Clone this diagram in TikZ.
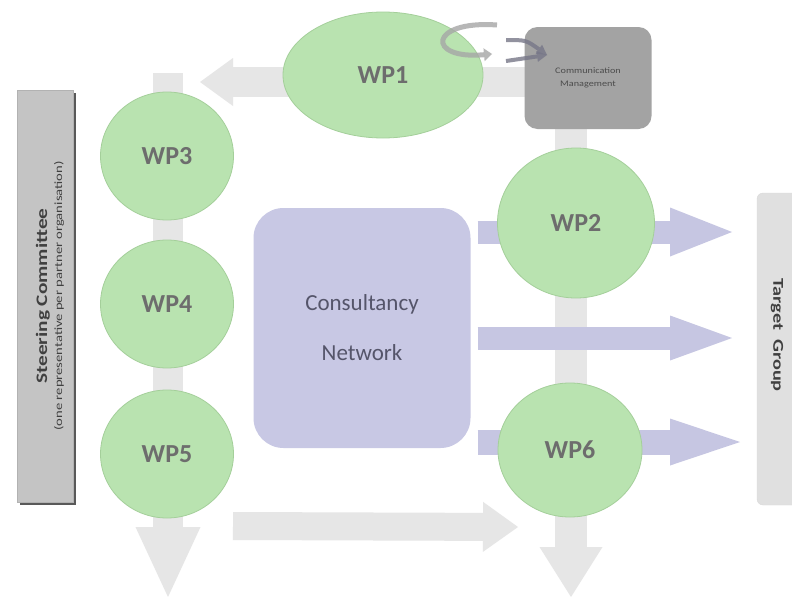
\documentclass[tikz,border=0pt]{standalone}
\usepackage{fontspec}
\setmainfont{Carlito}
\usepackage{graphicx}
\usetikzlibrary{arrows.meta,shapes.geometric,shadows}

\definecolor{wpgreen}{HTML}{B9E3B0}
\definecolor{wpedge}{HTML}{A4CF9A}
\definecolor{wptext}{HTML}{6D6D6D}
\definecolor{flowgray}{HTML}{E6E6E6}
\definecolor{flowpurple}{HTML}{C6C6E2}
\definecolor{netfill}{HTML}{C8C8E4}
\definecolor{nettext}{HTML}{55556A}
\definecolor{commfill}{HTML}{A3A3A3}
\definecolor{sidegray}{HTML}{C4C4C4}
\definecolor{targetgray}{HTML}{E0E0E0}

\tikzset{
	wp/.style={ellipse, fill=wpgreen, draw=wpedge, line width=0.8pt, inner sep=0pt,
		text=wptext, font=\fontsize{26}{30}\selectfont\bfseries},
	grayflow/.style args={#1/#2/#3}{draw=flowgray, line width=#1,
		-{Triangle[length=#2, width=#3, line width=0pt]}},
	purpleflow/.style args={#1/#2/#3}{draw=flowpurple, line width=#1,
		-{Triangle[length=#2, width=#3, line width=0pt]}},
	loopflow/.style={draw=black!35, opacity=0.8, line width=5pt,
		-{Triangle[length=8pt, width=13pt, line width=0pt]}},
	linkflow/.style={draw=black!40!flowpurple, opacity=0.8, line width=4pt,
		-{Triangle[length=10pt, width=11pt, line width=0pt]}}
}

\begin{document}
\begin{tikzpicture}[x=1pt, y=-1pt]
		\fill[white] (0,0) rectangle (792,597);
		\useasboundingbox (0,0) rectangle (792,597);
		%
		\coordinate (lvTop) at (168,73);
		\coordinate (lvEnd) at (168,597);
		\coordinate (rvTop) at (571,128);
		\coordinate (rvEnd) at (571,597);
		\coordinate (topStart) at (530,82);
		\coordinate (topEnd) at (200,82);
		\coordinate (botStart) at (233,526);
		\coordinate (botEnd) at (518,527);
		\coordinate (p1) at (732,232);
		\coordinate (p2) at (732,338);
		\coordinate (p3) at (740,442);
		%
		\path (lvTop) edge[grayflow=30pt/70pt/65pt] (lvEnd)
		(rvTop) edge[grayflow=32pt/50pt/63pt] (rvEnd)
		(topStart) edge[grayflow=30pt/33pt/48pt] (topEnd)
		(botStart) edge[grayflow=28pt/35pt/50pt] (botEnd);
		%
		\node[rectangle, rounded corners=30pt, fill=netfill, minimum width=217pt, minimum height=240pt,
			align=center, text=nettext, font=\fontsize{23}{50}\selectfont] (net) at (362,328) {Consultancy\\Network};
		%
		\path ([xshift=7pt]net.east |- p1) edge[purpleflow=23pt/62pt/49pt] (p1)
		([xshift=7pt]net.east |- p2) edge[purpleflow=23pt/62pt/45pt] (p2)
		([xshift=7pt]net.east |- p3) edge[purpleflow=25pt/70pt/47pt] (p3);
		%
		\node[wp, minimum width=200pt, minimum height=126pt] (wp1) at (383,75) {WP1};
		\node[wp, minimum width=157pt, minimum height=150pt] (wp2) at (576,223) {WP2};
		\node[wp, minimum width=133pt, minimum height=128pt] (wp3) at (167,156) {WP3};
		\node[wp, minimum width=133pt, minimum height=128pt] (wp4) at (167,304) {WP4};
		\node[wp, minimum width=133pt, minimum height=128pt] (wp5) at (167,454) {WP5};
		\node[wp, minimum width=144pt, minimum height=134pt] (wp6) at (570,450) {WP6};
		%
		\node[rectangle, rounded corners=13pt, fill=commfill, minimum width=127pt, minimum height=102pt,
			align=center, text=black!70, font=\fontsize{8.5}{13}\selectfont] (comm) at (588,78)
			{\scalebox{1.2}[1]{Communication}\\\scalebox{1.2}[1]{Management}};
		%
		\coordinate (loopA) at (497,25);
		\coordinate (loopB) at (492,54);
		\coordinate (linkA) at (506,40);
		\coordinate (linkB) at (506,61);
		\coordinate (commIn) at (547,55);
		\draw[loopflow] (loopA) .. controls (428,20) and (426,60) .. (loopB);
		\draw[linkflow] (linkA) .. controls (526,40) .. (commIn);
		\draw[linkflow] (linkB) -- (commIn);
		%
		\node[rectangle, fill=sidegray, draw=black!30, minimum width=56pt, minimum height=412pt,
			drop shadow={shadow xshift=2.5pt, shadow yshift=-2.5pt, fill=black!65, opacity=1}] (steer) at (45,296) {};
		\node[rotate=90, align=center, text=black!75] (steerlbl) at (50,296)
			{\fontsize{16}{20}\selectfont\bfseries\scalebox{1.33}[1]{Steering Committee}\\[3pt]
			\fontsize{11}{13}\selectfont\scalebox{1.33}[1]{(one representative per partner organisation)}};
		%
		\node[rectangle, rounded corners=6pt, fill=targetgray, draw=black!15, minimum width=56pt,
			minimum height=312pt] (target) at (785,349) {};
		\node[rotate=-90, text=black!75, font=\fontsize{15}{18}\selectfont\bfseries] (targetlbl) at (777,335)
			{\scalebox{1.35}[1]{Target\ \ Group}};
\end{tikzpicture}
\end{document}
